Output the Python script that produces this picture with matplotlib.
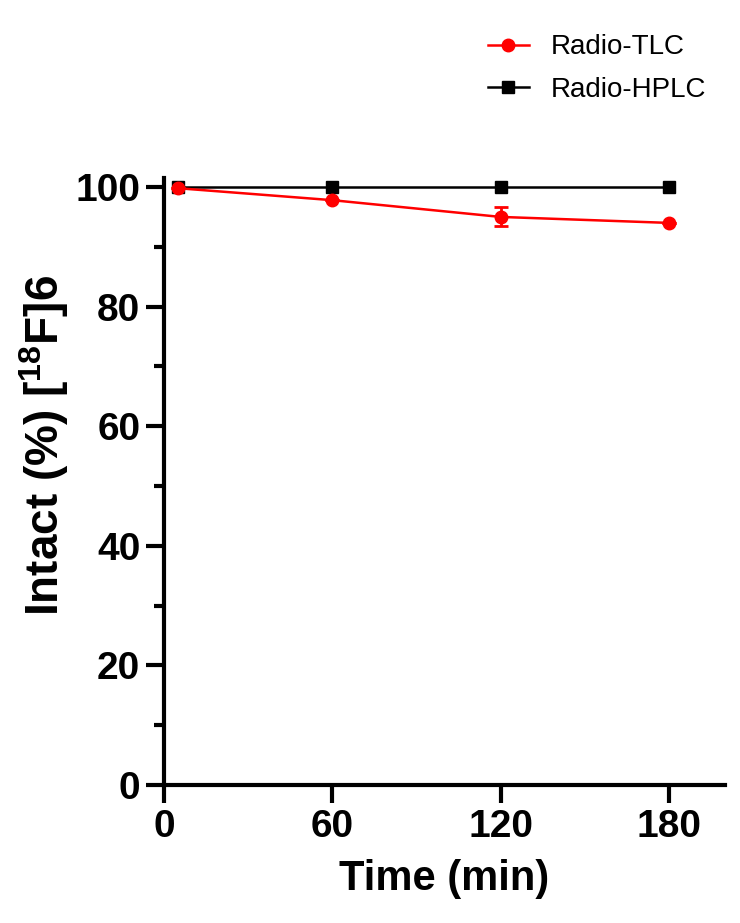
import matplotlib
matplotlib.use("Agg")
import matplotlib.pyplot as plt
from matplotlib.lines import Line2D

time_min = [5, 60, 120, 180]
tlc_values = [99.8, 97.8, 95.0, 94.0]
tlc_err = [0.0, 0.0, 1.6, 0.0]
hplc_values = [100, 100, 100, 100]
x_ticks = [0, 60, 120, 180]
y_ticks = [0, 20, 40, 60, 80, 100]
series_names = ["Radio-TLC", "Radio-HPLC"]

font = "Liberation Sans"
plt.rcParams["mathtext.fontset"] = "custom"
plt.rcParams["mathtext.bf"] = font + ":bold"
plt.rcParams["mathtext.rm"] = font + ":bold"

fig = plt.figure(figsize=(7.4, 9.23), dpi=100)
ax = fig.add_axes([0.2216, 0.1495, 0.758, 0.6576])

ax.errorbar(time_min, tlc_values, yerr=tlc_err, color="#ff0000", marker="o",
            markersize=9, linewidth=1.8, capsize=5, capthick=2, elinewidth=2,
            zorder=3)
ax.plot(time_min, hplc_values, color="black", marker="s", markersize=8,
        linewidth=1.8, zorder=2)

ax.set_xlim(0, 200)
ax.set_ylim(0, 101.5)
ax.set_xticks(x_ticks)
ax.set_yticks(y_ticks)
ax.set_yticks([10, 30, 50, 70, 90], minor=True)

for s in ["top", "right"]:
    ax.spines[s].set_visible(False)
for s in ["left", "bottom"]:
    ax.spines[s].set_linewidth(3)

ax.tick_params(axis="both", which="major", length=13, width=3, pad=4)
ax.tick_params(axis="y", which="minor", length=7, width=3)
for lab in ax.get_xticklabels() + ax.get_yticklabels():
    lab.set_fontfamily(font)
    lab.set_fontweight("bold")
    lab.set_fontsize(28)

ax.set_xlabel("Time (min)", fontfamily=font, fontweight="bold", fontsize=30, labelpad=10)
ax.set_ylabel(r"Intact (%) [$^{\mathbf{18}}$F]6", fontfamily=font, fontweight="bold",
              fontsize=33)
ax.yaxis.set_label_coords(-0.165, 0.56)

handles = [
    Line2D([], [], color="#ff0000", marker="o", markersize=9, linewidth=1.8),
    Line2D([], [], color="black", marker="s", markersize=8, linewidth=1.8),
]
fig.legend(handles, series_names, loc="upper left", bbox_to_anchor=(0.626, 0.99),
           frameon=False, prop={"family": font, "size": 20},
           handlelength=1.45, handletextpad=0.8, labelspacing=0.6)

fig.savefig("out.png", dpi=100)
